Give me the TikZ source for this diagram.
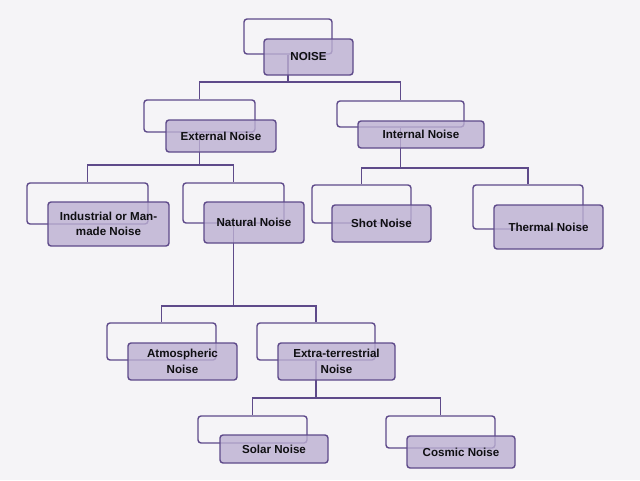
\documentclass[tikz,border=0pt]{standalone}
\usepackage{fontspec}
\setmainfont{Liberation Sans}
\definecolor{bord}{RGB}{94,74,138}
\definecolor{fillc}{RGB}{188,176,210}
\definecolor{bgc}{RGB}{245,244,247}
\definecolor{txt}{RGB}{15,15,18}
\begin{document}
\begin{tikzpicture}[x=1pt,y=-1pt,
  wbox/.style={draw=bord,line width=1.4pt,rounded corners=3pt,inner sep=0pt},
  fbox/.style={draw=bord,line width=1.4pt,rounded corners=3pt,fill=fillc,fill opacity=0.8,text opacity=1,
     inner sep=0pt,align=center,font=\fontsize{11.6}{15.5}\selectfont\bfseries,text=txt},
  conn/.style={draw=bord,line width=1.4pt}]
\fill[bgc] (0,0) rectangle (640,480);
\useasboundingbox (0,0) rectangle (640,480);
% white (back) boxes
\node[wbox,minimum width=88pt,minimum height=35pt] (Nw) at (288,36.5) {};
\node[wbox,minimum width=111pt,minimum height=32pt] (Ew) at (199.5,116) {};
\node[wbox,minimum width=127pt,minimum height=26pt] (Iw) at (400.5,114) {};
\node[wbox,minimum width=121pt,minimum height=41pt] (Mw) at (87.5,203.5) {};
\node[wbox,minimum width=101pt,minimum height=40pt] (Aw) at (233.5,203) {};
\node[wbox,minimum width=99pt,minimum height=38pt] (Sw) at (361.5,204) {};
\node[wbox,minimum width=110pt,minimum height=44pt] (Tw) at (528,207) {};
\node[wbox,minimum width=109pt,minimum height=37pt] (Pw) at (161.5,341.5) {};
\node[wbox,minimum width=118pt,minimum height=37pt] (Xw) at (316,341.5) {};
\node[wbox,minimum width=109pt,minimum height=27pt] (Lw) at (252.5,429.5) {};
\node[wbox,minimum width=109pt,minimum height=32pt] (Cw) at (440.5,432) {};
% connectors
\draw[conn] (Nw.south) -- (Nw.south |- 0,82) -| (Ew.north);
\draw[conn] (Nw.south |- 0,82) -| (Iw.north);
\draw[conn] (Ew.south) -- (Ew.south |- 0,165) -| (Mw.north);
\draw[conn] (Ew.south |- 0,165) -| (Aw.north);
\draw[conn] (Iw.south) -- (Iw.south |- 0,168) -| (Sw.north);
\draw[conn] (Iw.south |- 0,168) -| (Tw.north);
\draw[conn] (Aw.south) -- (Aw.south |- 0,306) -| (Pw.north);
\draw[conn] (Aw.south |- 0,306) -| (Xw.north);
\draw[conn] (Xw.south) -- (Xw.south |- 0,398) -| (Lw.north);
\draw[conn] (Xw.south |- 0,398) -| (Cw.north);
% filled (front) boxes
\node[fbox,minimum width=89pt,minimum height=36pt] (Nf) at (308.5,57) {NOISE};
\node[fbox,minimum width=110pt,minimum height=32pt] (Ef) at (221,136) {External Noise};
\node[fbox,minimum width=126pt,minimum height=27pt] (If) at (421,134.5) {Internal Noise};
\node[fbox,minimum width=121pt,minimum height=44pt] (Mf) at (108.5,224) {Industrial or Man-\\made Noise};
\node[fbox,minimum width=100pt,minimum height=41pt] (Af) at (254,222.5) {Natural Noise};
\node[fbox,minimum width=99pt,minimum height=37pt] (Sf) at (381.5,223.5) {Shot Noise};
\node[fbox,minimum width=109pt,minimum height=44pt] (Tf) at (548.5,227) {Thermal Noise};
\node[fbox,minimum width=109pt,minimum height=37pt] (Pf) at (182.5,361.5) {Atmospheric\\Noise};
\node[fbox,minimum width=117pt,minimum height=37pt] (Xf) at (336.5,361.5) {Extra-terrestrial\\Noise};
\node[fbox,minimum width=108pt,minimum height=28pt] (Lf) at (274,449) {Solar Noise};
\node[fbox,minimum width=108pt,minimum height=32pt] (Cf) at (461,452) {Cosmic Noise};
\end{tikzpicture}
\end{document}
